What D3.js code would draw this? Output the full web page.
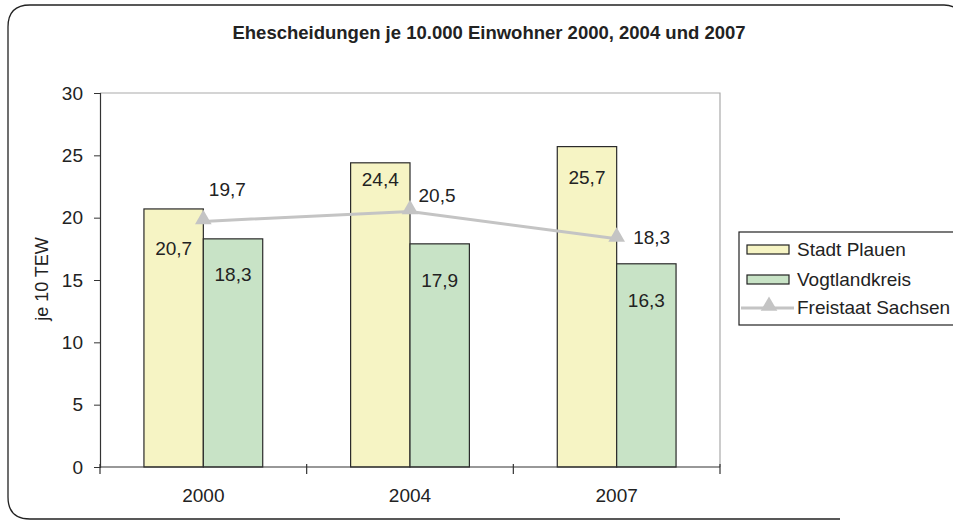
<!DOCTYPE html>
<html>
<head>
<meta charset="utf-8">
<script src="https://cdn.jsdelivr.net/npm/d3@7"></script>
<style>
  html, body { margin: 0; background: #fff; overflow: hidden; }
  svg { display: block; font-family: "Liberation Sans", Arial, sans-serif; }
</style>
</head>
<body>
<svg width="953" height="526"></svg>
<script>
// Data
const years = ["2000", "2004", "2007"];
const plauen = [20.7, 24.4, 25.7];
const vogtland = [18.3, 17.9, 16.3];
const sachsen = [19.7, 20.5, 18.3];
const yTicks = [0, 5, 10, 15, 20, 25, 30];

// label offsets (manual placement like in the original)
const plauenLabelDy = [39, 17, 31];
const vogtLabelDy = [35, 37, 37];
const sachsenLabelPos = [[24, -32], [27, -16], [35, -2]];

const FONT = 19;
const fmt = v => d3.format(".1f")(v).replace(".", ",");

const svg = d3.select("svg");

// outer frame (right/bottom-right part runs off the picture)
svg.append("path")
    .attr("d", "M840,519 H30 Q8,519 8,497 V27 Q8,5 30,5 H944 Q958,5 962,18")
    .attr("fill", "none")
    .attr("stroke", "#222")
    .attr("stroke-width", 1.3);

// title
svg.append("text")
    .attr("x", 489).attr("y", 39)
    .attr("text-anchor", "middle")
    .attr("font-size", 18.5)
    .attr("font-weight", "bold")
    .attr("fill", "#222")
    .text("Ehescheidungen je 10.000 Einwohner 2000, 2004 und 2007");

const plot = {left: 100, right: 720, top: 93, bottom: 467};

const x = d3.scaleBand().domain(years).range([plot.left, plot.right]);
const xs = d3.scaleBand().domain(["p", "v"]).range([0, x.bandwidth()]).paddingOuter(0.74).paddingInner(0);
const y = d3.scaleLinear().domain([0, 30]).range([plot.bottom, plot.top]);

// plot area border (gray top/right)
svg.append("path")
    .attr("d", `M${plot.left},${plot.top}H${plot.right}V${plot.bottom}`)
    .attr("fill", "none").attr("stroke", "#aaa").attr("stroke-width", 1.2);

// bars
const groups = svg.append("g").selectAll("g")
    .data(years)
    .join("g")
    .attr("transform", d => `translate(${x(d)},0)`);

groups.append("rect")
    .attr("x", xs("p")).attr("width", xs.bandwidth())
    .attr("y", (d, i) => y(plauen[i]))
    .attr("height", (d, i) => y(0) - y(plauen[i]))
    .attr("fill", "#f6f4c4").attr("stroke", "#2a2a2a").attr("stroke-width", 1.2);

groups.append("rect")
    .attr("x", xs("v")).attr("width", xs.bandwidth())
    .attr("y", (d, i) => y(vogtland[i]))
    .attr("height", (d, i) => y(0) - y(vogtland[i]))
    .attr("fill", "#c8e3c6").attr("stroke", "#2a2a2a").attr("stroke-width", 1.2);

groups.append("text")
    .attr("x", xs("p") + xs.bandwidth() / 2)
    .attr("y", (d, i) => y(plauen[i]) + plauenLabelDy[i])
    .attr("dy", "0.35em")
    .attr("text-anchor", "middle")
    .attr("font-size", FONT).attr("fill", "#222")
    .text((d, i) => fmt(plauen[i]));

groups.append("text")
    .attr("x", xs("v") + xs.bandwidth() / 2)
    .attr("y", (d, i) => y(vogtland[i]) + vogtLabelDy[i])
    .attr("dy", "0.35em")
    .attr("text-anchor", "middle")
    .attr("font-size", FONT).attr("fill", "#222")
    .text((d, i) => fmt(vogtland[i]));

// axes
const yAxis = svg.append("g")
    .attr("transform", `translate(${plot.left},0)`)
    .call(d3.axisLeft(y).tickValues(yTicks).tickSize(6).tickPadding(11));
yAxis.select(".domain").attr("stroke", "#333").attr("stroke-width", 1.2);
yAxis.selectAll(".tick line").attr("stroke", "#333");
yAxis.selectAll("text").attr("font-size", FONT).attr("fill", "#222")
    .attr("font-family", "Liberation Sans, Arial, sans-serif");

const xAxisG = svg.append("g");
xAxisG.append("line")
    .attr("x1", plot.left).attr("x2", plot.right)
    .attr("y1", plot.bottom).attr("y2", plot.bottom)
    .attr("stroke", "#333").attr("stroke-width", 1.2);
xAxisG.selectAll("line.tk")
    .data(years.map(d => x(d)).concat([plot.right]))
    .join("line").attr("class", "tk")
    .attr("x1", d => d).attr("x2", d => d)
    .attr("y1", plot.bottom - 3).attr("y2", plot.bottom + 7)
    .attr("stroke", "#333").attr("stroke-width", 1.2);
xAxisG.selectAll("text")
    .data(years)
    .join("text")
    .attr("x", d => x(d) + x.bandwidth() / 2)
    .attr("y", 502)
    .attr("text-anchor", "middle")
    .attr("font-size", FONT).attr("fill", "#222")
    .text(d => d);

// y axis title
svg.append("text")
    .attr("transform", "translate(48,279) rotate(-90)")
    .attr("text-anchor", "middle")
    .attr("font-size", 18).attr("fill", "#222")
    .text("je 10 TEW");

// line series Freistaat Sachsen
const cx = d => x(d) + x.bandwidth() / 2;
const line = d3.line().x((d, i) => cx(years[i])).y(d => y(d));
svg.append("path")
    .datum(sachsen)
    .attr("d", line)
    .attr("fill", "none").attr("stroke", "#c4c4c4").attr("stroke-width", 3);

const tri = d3.symbol().type(d3.symbolTriangle).size(120);
svg.append("g").selectAll("path")
    .data(sachsen)
    .join("path")
    .attr("d", tri)
    .attr("transform", (d, i) => `translate(${cx(years[i])},${y(d) - 2})`)
    .attr("fill", "#c4c4c4");

svg.append("g").selectAll("text")
    .data(sachsen)
    .join("text")
    .attr("x", (d, i) => cx(years[i]) + sachsenLabelPos[i][0])
    .attr("y", (d, i) => y(d) + sachsenLabelPos[i][1])
    .attr("dy", "0.35em")
    .attr("text-anchor", "middle")
    .attr("font-size", FONT).attr("fill", "#222")
    .text(d => fmt(d));

// legend
const legend = svg.append("g").attr("transform", "translate(739,232)");
legend.append("rect")
    .attr("width", 240).attr("height", 93)
    .attr("fill", "#fff").attr("stroke", "#222").attr("stroke-width", 1.2);

const legendItems = [
    {name: "Stadt Plauen", type: "bar", color: "#f6f4c4"},
    {name: "Vogtlandkreis", type: "bar", color: "#c8e3c6"},
    {name: "Freistaat Sachsen", type: "line", color: "#c4c4c4"}
];
const legendY = [17, 47, 75];

legendItems.forEach((it, i) => {
    const row = legend.append("g").attr("transform", `translate(0,${legendY[i]})`);
    if (it.type === "bar") {
        row.append("rect")
            .attr("x", 8).attr("y", -4).attr("width", 42).attr("height", 9)
            .attr("fill", it.color).attr("stroke", "#222").attr("stroke-width", 1.2);
    } else {
        row.append("line")
            .attr("x1", 2).attr("x2", 55).attr("y1", 1).attr("y2", 1)
            .attr("stroke", it.color).attr("stroke-width", 3);
        row.append("path").attr("d", tri).attr("transform", "translate(30,-1)").attr("fill", it.color);
    }
    row.append("text")
        .attr("x", 58).attr("y", 0).attr("dy", "0.35em")
        .attr("font-size", FONT).attr("fill", "#222")
        .text(it.name);
});
</script>
</body>
</html>
